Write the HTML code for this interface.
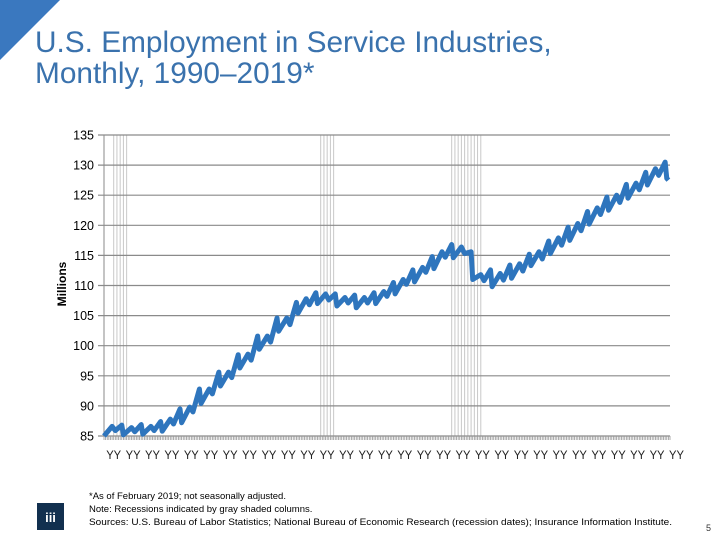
<!DOCTYPE html>
<html><head><meta charset="utf-8"><style>
body{margin:0;width:720px;height:540px;background:#fff;overflow:hidden;font-family:"Liberation Sans",sans-serif}
</style></head><body>
<svg id="c" width="720" height="540" xmlns="http://www.w3.org/2000/svg">
<polygon points="0,0 60,0 0,60" fill="#3a78bf"/>
<text x="35" y="52" font-size="29.8" fill="#3a72ad" font-family="Liberation Sans, sans-serif">U.S. Employment in Service Industries,</text>
<text x="35" y="83" font-size="29.8" fill="#3a72ad" font-family="Liberation Sans, sans-serif">Monthly, 1990–2019*</text>
<g id="rec"></g>
<g id="grid"></g>
<g id="xt"></g>
<path id="line" fill="none" stroke="#2e75bd" stroke-width="5" stroke-linejoin="round"/>
<text transform="translate(66,284) rotate(-90)" text-anchor="middle" font-size="12" font-weight="bold" fill="#000">Millions</text>
<rect x="37" y="503" width="27" height="27" fill="#12304f"/>
<text x="50.5" y="522" text-anchor="middle" font-size="13" font-weight="bold" fill="#fff">iii</text>
<g font-size="9.5" fill="#000">
<text x="89" y="499">*As of February 2019; not seasonally adjusted.</text>
<text x="89" y="512">Note: Recessions indicated by gray shaded columns.</text>
<text x="89" y="525" textLength="583" lengthAdjust="spacingAndGlyphs">Sources: U.S. Bureau of Labor Statistics;  National Bureau of Economic Research (recession dates); Insurance Information Institute.</text>
</g>
<text x="706" y="531" font-size="9" fill="#333">5</text>
</svg>
<script>
const years=[1990,1991,1992,1993,1994,1995,1996,1997,1998,1999,2000,2001,2002,2003,2004,2005,2006,2007,2008,2009,2010,2011,2012,2013,2014,2015,2016,2017,2018];
const janLow=[85.0,85.2,85.3,85.8,87.2,90.4,93.3,96.3,99.4,102.4,105.4,107.0,106.6,106.3,107.0,108.6,110.6,112.8,114.6,111.0,109.8,111.2,113.3,115.3,117.5,120.2,122.5,124.5,126.7];
const junHigh=[86.6,86.4,86.6,87.8,89.8,92.8,95.6,98.6,101.6,104.6,107.8,108.6,108.0,108.0,109.0,111.0,113.0,115.6,116.4,111.8,112.0,113.6,115.6,117.9,120.3,122.9,125.0,127.0,129.4];
const julLow=[85.9,85.7,85.9,87.0,89.0,92.0,94.7,97.6,100.6,103.5,106.8,107.6,107.1,107.1,108.2,110.2,112.2,114.7,115.3,110.8,110.9,112.4,114.4,116.7,119.1,121.8,123.8,125.9,128.3];
const decHigh=[86.8,86.9,87.4,89.5,92.8,95.6,98.5,101.6,104.6,107.2,108.8,108.6,108.4,108.8,110.5,112.6,114.8,116.8,115.6,112.6,113.4,115.2,117.4,119.7,122.3,124.7,126.8,128.8,130.5];
const lastValue=[127.8,127.5]; // Jan, Feb 2019
const recessions=[[6,14],[134,142],[215,233]];
const yTicks=[85,90,95,100,105,110,115,120,125,130,135];
const nMonths=350;
const X0=104,X1=670,Y0=436,Y1=135;
const xs=m=>X0+m*(X1-X0)/nMonths;
const ys=v=>Y0-(v-85)*(Y0-Y1)/50;
const NS="http://www.w3.org/2000/svg";
function mk(t,a,p){const e=document.createElementNS(NS,t);for(const k in a)e.setAttribute(k,a[k]);p.appendChild(e);return e;}
const rec=document.getElementById('rec');
recessions.forEach(r=>{for(let m=r[0];m<=r[1];m+=2){const l=mk('line',{x1:xs(m),x2:xs(m),y1:Y1,y2:Y0,stroke:'#c8c8c8','stroke-width':1},rec);

}});
const g=document.getElementById('grid');
yTicks.forEach(v=>{const l=mk('line',{x1:98,x2:X1,y1:ys(v),y2:ys(v),stroke:'#8a8a8a','stroke-width':1.2},g);


const t=mk('text',{x:94,y:ys(v)+4.5,'text-anchor':'end','font-size':12.5,fill:'#000'},g);t.textContent=v;

});
mk('line',{x1:X0,x2:X0,y1:Y1,y2:Y0,stroke:'#8a8a8a','stroke-width':1},g);
const xt=document.getElementById('xt');
let d='';for(let m=0;m<=nMonths;m++)d+=`M${xs(m).toFixed(2)},${Y0}v4`;
const tk=mk('path',{d:d,stroke:'#999','stroke-width':0.8},xt);


for(let i=0;i<30;i++){const t=mk('text',{x:xs(i*12+6),y:459,'text-anchor':'middle','font-size':12,fill:'#222',textLength:15,lengthAdjust:'spacingAndGlyphs'},xt);t.textContent='YY';

}
let p='';
years.forEach((y,i)=>{const m=(y-1990)*12;
p+=(i?'L':'M')+xs(m).toFixed(2)+','+ys(janLow[i]).toFixed(2);
p+='L'+xs(m+5).toFixed(2)+','+ys(junHigh[i]).toFixed(2);
p+='L'+xs(m+7).toFixed(2)+','+ys(julLow[i]).toFixed(2);
p+='L'+xs(m+11).toFixed(2)+','+ys(decHigh[i]).toFixed(2);});
lastValue.forEach((v,i)=>{p+='L'+xs(348+i).toFixed(2)+','+ys(v).toFixed(2);});
document.getElementById('line').setAttribute('d',p);
</script>
</body></html>
